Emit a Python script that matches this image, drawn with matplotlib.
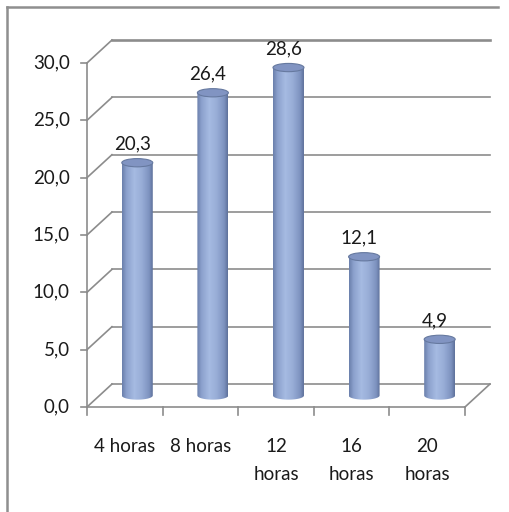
import numpy as np
import matplotlib
matplotlib.use('Agg')
import matplotlib.pyplot as plt
from matplotlib.path import Path
from matplotlib.patches import PathPatch, Ellipse
from matplotlib.colors import LinearSegmentedColormap
from matplotlib.lines import Line2D

categorias = ['4 horas', '8 horas', '12\nhoras', '16\nhoras', '20\nhoras']
valores = [20.3, 26.4, 28.6, 12.1, 4.9]
ticks_y = [0, 5, 10, 15, 20, 25, 30]

plt.rcParams['font.family'] = ['Lato', 'DejaVu Sans']
cor_texto = '#1a1a1a'
cinza = '#8c8c8c'
fs = 13.5

# profundidade do "3D" em unidades de dados
dx, dy = 0.33, 2.0
w, eh = 0.41, 0.72

fig = plt.figure(figsize=(5.09, 5.12), dpi=100)
ax = fig.add_axes([0, 0, 1, 1])
ax.set_xlim(-1.151, 5.582)
ax.set_ylim(-9.157, 35.49)
ax.axis('off')

# moldura (só esquerda e topo aparecem)
fig.add_artist(Line2D([6.5/509, 6.5/509], [0, 1 - 7/512], transform=fig.transFigure,
                      color='#8f8f8f', lw=1.8))
fig.add_artist(Line2D([6.5/509, 498/509], [1 - 7/512, 1 - 7/512], transform=fig.transFigure,
                      color='#8f8f8f', lw=1.8))

# paredes e grade
for v in ticks_y:
    lw = 1.9 if v == 30 else 1.2
    ax.plot([dx, 5 + dx], [v + dy, v + dy], color=cinza, lw=lw, zorder=1)
    ax.plot([0, dx], [v, v + dy], color=cinza, lw=1.2, zorder=1)
    ax.plot([-0.075, 0], [v, v], color=cinza, lw=1.2, zorder=1)
    ax.text(-0.23, v, f'{v:.1f}'.replace('.', ','), ha='right', va='center',
            fontsize=fs, color=cor_texto)

ax.plot([0, 0], [0, 30], color=cinza, lw=1.2, zorder=1)
ax.plot([0, 5], [0, 0], color=cinza, lw=1.2, zorder=1)
ax.plot([5, 5 + dx], [0, dy], color=cinza, lw=1.2, zorder=1)
for i in range(len(categorias) + 1):
    ax.plot([i, i], [0, -0.7], color=cinza, lw=1.2, zorder=1)

for i, cat in enumerate(categorias):
    ax.text(i + 0.5, -2.7, cat, ha='center', va='top', fontsize=fs,
            color=cor_texto, linespacing=1.8)

# cilindros
grad = LinearSegmentedColormap.from_list('cil', [
    (0.0, '#6a7fab'), (0.15, '#8ca1cd'), (0.4, '#a6bbe2'),
    (0.65, '#97acd6'), (0.88, '#7d92bf'), (1.0, '#5d709a')])
t = np.linspace(np.pi, 2 * np.pi, 40)
for i, v in enumerate(valores):
    cx = i + 0.5 + dx / 2
    base = dy / 2
    topo = v + dy / 2
    xs = list(cx + w / 2 * np.cos(t)) + [cx + w / 2, cx - w / 2]
    ys = list(base + eh / 2 * np.sin(t)) + [topo, topo]
    verts = list(zip(xs, ys)) + [(xs[0], ys[0])]
    codes = [Path.MOVETO] + [Path.LINETO] * (len(verts) - 2) + [Path.CLOSEPOLY]
    corpo = PathPatch(Path(verts, codes), fc='none', ec='none', zorder=2)
    ax.add_patch(corpo)
    img = ax.imshow(np.linspace(0, 1, 256)[None, :], cmap=grad, aspect='auto',
                    extent=(cx - w / 2, cx + w / 2, base - eh / 2, topo),
                    zorder=2, interpolation='bilinear')
    img.set_clip_path(corpo)
    ax.add_patch(Ellipse((cx, topo), w, eh, fc='#8194c2', ec='#66799f',
                         lw=0.8, zorder=3))
    ax.text(cx - 0.065, topo + 1.65, f'{v:.1f}'.replace('.', ','), ha='center',
            va='center', fontsize=fs, color=cor_texto, zorder=4)

ax.set_xlim(-1.151, 5.582)
ax.set_ylim(-9.157, 35.49)

fig.savefig('out.png', dpi=100)
